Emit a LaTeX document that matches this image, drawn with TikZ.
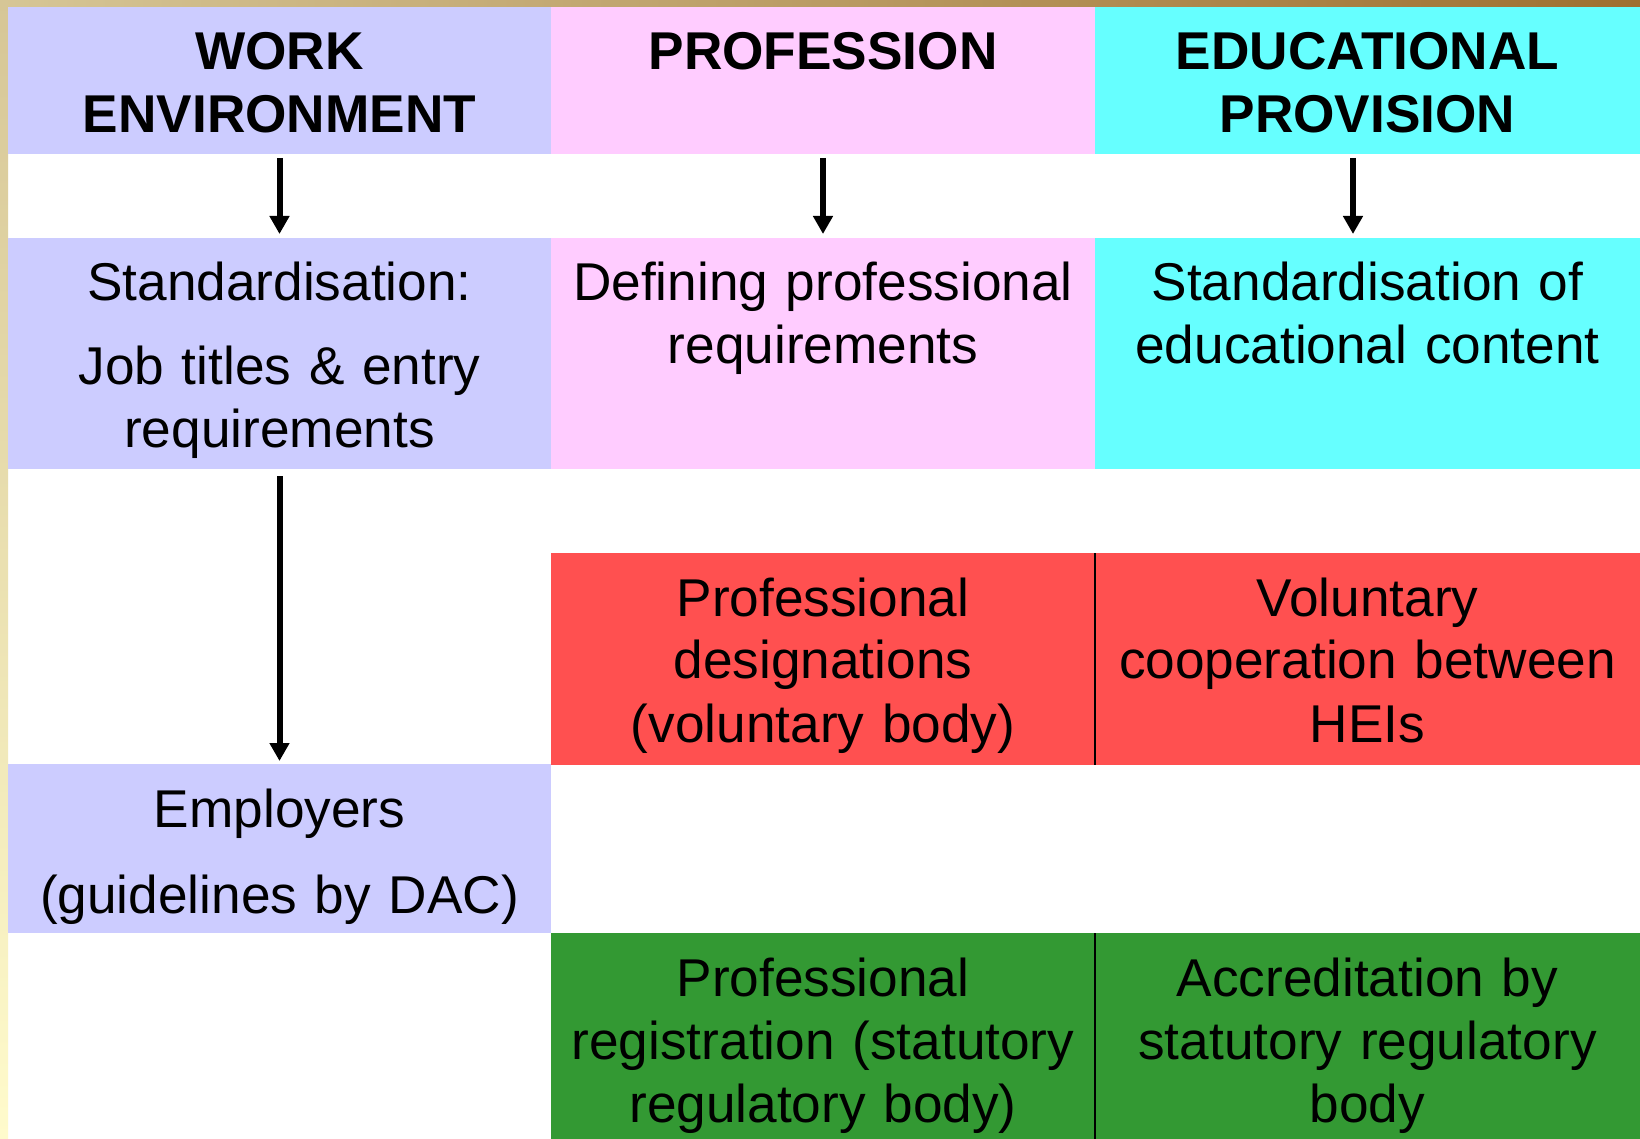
\documentclass[tikz,border=0pt]{standalone}
\usepackage{xcolor}
\usepackage{fontspec}
\setmainfont{Liberation Sans}[WordSpace=0.85]
\usepackage{tikz}
\usetikzlibrary{arrows.meta, positioning}
\definecolor{lavender}{RGB}{204,204,255}
\definecolor{pinkish}{RGB}{255,204,255}
\definecolor{aqua}{RGB}{102,255,255}
\definecolor{redbox}{RGB}{255,80,80}
\definecolor{greenbox}{RGB}{51,153,51}
\definecolor{goldA}{RGB}{214,198,150}
\definecolor{goldB}{RGB}{158,112,48}
\definecolor{paleY}{RGB}{255,251,204}
\tikzstyle{cell} = [rectangle, inner sep=0pt, outer sep=0pt, anchor=north west]
\tikzstyle{txt} = [anchor=base, inner sep=0pt, text width=265pt, align=center,
    font=\fontsize{26.6}{31.5}\selectfont]
\tikzstyle{head} = [txt, font=\fontsize{26.6}{31.5}\selectfont\bfseries]
\tikzstyle{line} = [draw, line width=3pt, -{Triangle[width=9.5pt,length=9pt]}]
\tikzstyle{divider} = [draw, line width=1pt]

\begin{document}
\begin{tikzpicture}[x=0.5pt, y=-0.5pt]
      \useasboundingbox (0,0) rectangle (1640,1139);
      % Frame
      \fill[white] (0,0) rectangle (1640,1139);
      \shade[left color=goldA, right color=goldB] (0,0) rectangle (1640,7);
      \shade[top color=goldA, bottom color=paleY] (0,0) rectangle (8,1139);
      % Headings
      \node [cell, fill=lavender, minimum width=271.5pt, minimum height=73.5pt] (work) at (8,7) {};
      \node [cell, fill=pinkish, minimum width=272pt, minimum height=73.5pt, right=0pt of work] (prof) {};
      \node [cell, fill=aqua, minimum width=272.5pt, minimum height=73.5pt, right=0pt of prof] (edu) {};
      \node [head] (twork) at ([yshift=-31.5pt]work.north) {WORK\\ENVIRONMENT};
      \node [head] (tprof) at ([yshift=-31.5pt]prof.north) {PROFESSION};
      \node [head] (tedu) at ([yshift=-31.5pt]edu.north) {EDUCATIONAL\\PROVISION};
      % Standardisation
      \node [cell, fill=lavender, minimum width=271.5pt, minimum height=115.5pt] (stdjob) at (8,238) {};
      \node [cell, fill=pinkish, minimum width=272pt, minimum height=115.5pt, right=0pt of stdjob] (defreq) {};
      \node [cell, fill=aqua, minimum width=272.5pt, minimum height=115.5pt, right=0pt of defreq] (stdedu) {};
      \node [txt] (tstdjob) at ([yshift=-31.5pt]stdjob.north) {Standardisation:\\[10.5pt]Job titles \& entry\\requirements};
      \node [txt] (tdefreq) at ([yshift=-31.5pt]defreq.north) {Defining professional\\requirements};
      \node [txt] (tstdedu) at ([yshift=-31.5pt]stdedu.north) {Standardisation of\\educational content};
      % Voluntary
      \node [cell, fill=redbox, minimum width=272pt, minimum height=106pt] (desig) at (551,553) {};
      \node [cell, fill=redbox, minimum width=272.5pt, minimum height=106pt, right=0pt of desig] (coop) {};
      \node [txt] (tdesig) at ([yshift=-31.5pt]desig.north) {Professional\\designations\\(voluntary body)};
      \node [txt] (tcoop) at ([yshift=-31.5pt]coop.north) {Voluntary\\cooperation between\\HEIs};
      % Employers
      \node [cell, fill=lavender, minimum width=271.5pt, minimum height=84.5pt] (employers) at (8,764) {};
      \node [txt] (temployers) at ([yshift=-31.5pt]employers.north) {Employers\\[11.5pt](guidelines by DAC)};
      % Statutory
      \node [cell, fill=greenbox, minimum width=272pt, minimum height=103pt] (registr) at (551,933) {};
      \node [cell, fill=greenbox, minimum width=272.5pt, minimum height=103pt, right=0pt of registr] (accred) {};
      \node [txt] (tregistr) at ([yshift=-31.5pt]registr.north) {Professional\\registration (statutory\\regulatory body)};
      \node [txt] (taccred) at ([yshift=-31.5pt]accred.north) {Accreditation by\\statutory regulatory\\body};
      % Draw edges
      \path [line, shorten <=2pt, shorten >=2pt] (work) -- (stdjob);
      \path [line, shorten <=2pt, shorten >=2pt] (prof) -- (defreq);
      \path [line, shorten <=2pt, shorten >=2pt] ([xshift=-7.25pt]edu.south) -- ([xshift=-7.25pt]stdedu.north);
      \path [line, shorten <=3.5pt, shorten >=1.5pt] (stdjob) -- (employers);
      \path [divider] (desig.north east) -- (desig.south east);
      \path [divider] (registr.north east) -- (registr.south east);
\end{tikzpicture}
\end{document}
